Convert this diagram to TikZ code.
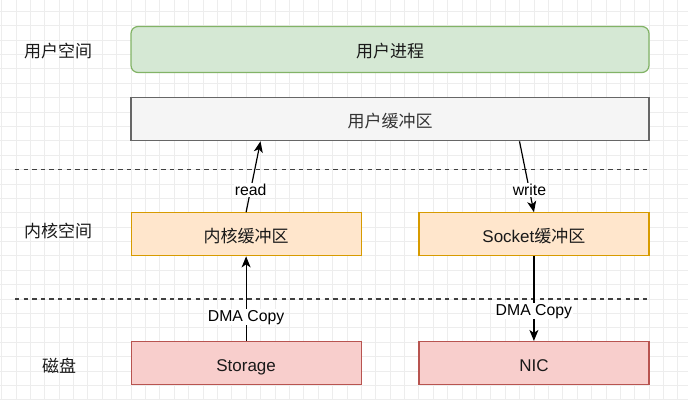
\documentclass[tikz,border=0pt]{standalone}
\usepackage{fontspec}
\setmainfont{Liberation Sans}
\newfontfamily\cjk{Noto Sans CJK SC}
\usetikzlibrary{arrows.meta}
\definecolor{gridgray}{HTML}{EDEDED}
\definecolor{procfill}{HTML}{D5E8D4}
\definecolor{procline}{HTML}{82B366}
\definecolor{ubuffill}{HTML}{F5F5F5}
\definecolor{ubufline}{HTML}{666666}
\definecolor{ubuftext}{HTML}{333333}
\definecolor{kbuffill}{HTML}{FFE6CC}
\definecolor{kbufline}{HTML}{D79B00}
\definecolor{devfill}{HTML}{F8CECC}
\definecolor{devline}{HTML}{B85450}
\tikzset{
  box/.style={draw, line width=1.2pt, minimum width=230pt, minimum height=43pt,
    text height=16.6pt, text depth=0pt,
    font=\fontsize{17}{20}\selectfont, text=black!90},
  widebox/.style={box, minimum width=518pt},
  lbl/.style={font=\fontsize{15.8}{18}\selectfont, fill=white, inner sep=1pt},
  flow/.style={line width=1.2pt, -{Stealth[length=11pt,width=9pt,inset=3pt]}},
  layer/.style={font=\cjk\fontsize{17}{20}\selectfont, text=black!90},
  sep/.style={dash pattern=on 4.3pt off 4.3pt, line width=1.3pt, draw=black!75}
}
\begin{document}
\begin{tikzpicture}[x=1pt,y=-1pt]
\path[use as bounding box] (0,0) rectangle (688,400);
\foreach \i in {0,...,47} \draw[gridgray, line width=0.7pt] ({1.5+14.39*\i},0) -- ({1.5+14.39*\i},400);
\foreach \j in {0,...,27} \draw[gridgray, line width=0.7pt] (0,{11.2+14.39*\j}) -- (688,{11.2+14.39*\j});
\draw[sep] (15,169.5) -- (649,169.5);
\draw[sep] (15,299) -- (649,299);
\node[layer] (luser) at (58,51) {用户空间};
\node[layer] (lkern) at (58,230.5) {内核空间};
\node[layer] (ldisk) at (59,366) {磁盘};
\node[widebox, rounded corners=7pt, minimum height=46pt, fill=procfill, draw=procline] (proc) at (390,49.5) {\cjk 用户进程};
\node[widebox, fill=ubuffill, draw=ubufline, text=ubuftext] (ubuf) at (390,119.2) {\cjk 用户缓冲区};
\node[box, fill=kbuffill, draw=kbufline] (kbuf) at (246.1,234.3) {\cjk 内核缓冲区};
\node[box, fill=kbuffill, draw=kbufline] (sbuf) at (533.9,234.3) {Socket\cjk 缓冲区};
\node[box, fill=devfill, draw=devline] (stor) at (246.1,363) {Storage};
\node[box, fill=devfill, draw=devline] (nic) at (533.9,363) {NIC};
\coordinate (rd) at ([xshift=-129.5pt]ubuf.south);
\coordinate (wr) at ([xshift=129.5pt]ubuf.south);
\draw[flow] (kbuf.north) -- node[lbl, pos=0.31] {read} (rd);
\draw[flow] (wr) -- node[lbl, pos=0.69] {write} (sbuf.north);
\draw[flow] (stor.north) -- node[lbl, pos=0.28] {DMA Copy} (kbuf.south);
\draw[flow] (sbuf.south) -- node[lbl, pos=0.65] {DMA Copy} (nic.north);
\end{tikzpicture}
\end{document}
